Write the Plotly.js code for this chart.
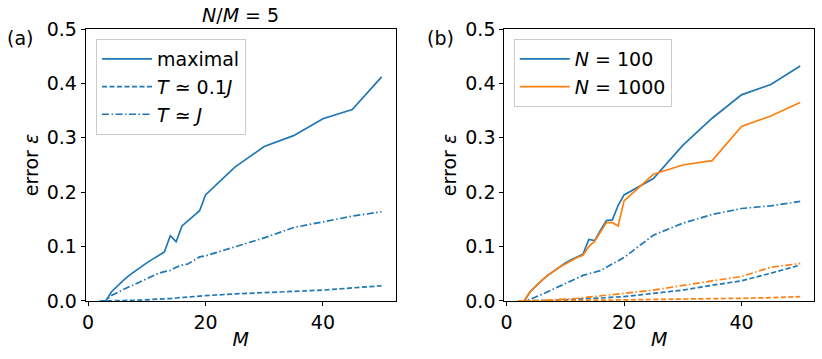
<!DOCTYPE html>
<html>
<head>
<meta charset="utf-8">
<script src="https://cdn.plot.ly/plotly-3.0.1.min.js"></script>
<style>
  html, body { margin: 0; padding: 0; background: #fff; }
  #graph { width: 822px; height: 359px; }
</style>
</head>
<body>
<div id="graph"></div>
<script>
// M values shared by every curve
const mValues = [2, 3, 4, 5, 6, 7, 8, 9, 10, 11, 12, 13, 14, 15, 16, 17, 18, 19, 20, 25, 30, 35, 40, 45, 50];

// panel (a), N/M = 5
const maximalA = [0, 0, 0.017, 0.028, 0.038, 0.047, 0.055, 0.063, 0.070, 0.077, 0.083, 0.090, 0.120, 0.109, 0.138, 0.147, 0.156, 0.166, 0.195, 0.246, 0.284, 0.304, 0.335, 0.352, 0.412];
const lowTempA = [0, 0, 0, 0.0003, 0.0006, 0.001, 0.0013, 0.0017, 0.002, 0.0025, 0.003, 0.0037, 0.0045, 0.0055, 0.0065, 0.0075, 0.0085, 0.009, 0.0098, 0.013, 0.015, 0.018, 0.020, 0.024, 0.028];
const highTempA = [0, 0, 0.010, 0.016, 0.021, 0.026, 0.031, 0.036, 0.041, 0.046, 0.051, 0.054, 0.056, 0.062, 0.066, 0.068, 0.075, 0.081, 0.083, 0.099, 0.116, 0.135, 0.146, 0.156, 0.164];

// panel (b), N = 100 and N = 1000
const maximalN100 = [0, 0, 0.017, 0.028, 0.038, 0.047, 0.055, 0.063, 0.070, 0.076, 0.081, 0.086, 0.113, 0.111, 0.130, 0.148, 0.149, 0.176, 0.195, 0.225, 0.286, 0.336, 0.379, 0.398, 0.432];
const maximalN1000 = [0, 0, 0.017, 0.028, 0.038, 0.047, 0.055, 0.062, 0.068, 0.074, 0.080, 0.084, 0.100, 0.110, 0.127, 0.144, 0.144, 0.138, 0.184, 0.233, 0.250, 0.258, 0.321, 0.340, 0.365];
const highTempN100 = [0, 0, 0.003, 0.007, 0.012, 0.017, 0.022, 0.027, 0.032, 0.037, 0.042, 0.047, 0.050, 0.053, 0.056, 0.062, 0.068, 0.074, 0.080, 0.121, 0.143, 0.159, 0.170, 0.175, 0.183];
const highTempN1000 = [0, 0, 0, 0.0005, 0.001, 0.0015, 0.002, 0.003, 0.004, 0.0045, 0.005, 0.006, 0.007, 0.008, 0.009, 0.010, 0.011, 0.012, 0.014, 0.020, 0.029, 0.037, 0.045, 0.062, 0.069];
const lowTempN100 = [0, 0, 0, 0, 0.0005, 0.001, 0.0013, 0.0016, 0.002, 0.0025, 0.003, 0.0035, 0.004, 0.005, 0.0055, 0.006, 0.007, 0.0075, 0.008, 0.014, 0.020, 0.029, 0.037, 0.051, 0.066];
const lowTempN1000 = [0, 0, 0, 0, 0, 0.0002, 0.0004, 0.0006, 0.0008, 0.001, 0.0011, 0.0012, 0.0013, 0.0014, 0.0015, 0.0016, 0.0017, 0.0018, 0.002, 0.0025, 0.003, 0.0035, 0.005, 0.006, 0.008];

const blue = '#1f77b4';
const orange = '#ff7f0e';
const font = 'DejaVu Sans, sans-serif';
const fsize = 19;
const dashed = '5px,2.5px';
const dashDot = '7px,2.5px,1.5px,2.5px';

function makeLine(y, color, dash, name, axis, legendName, show) {
    return {
        x: mValues,
        y: y,
        mode: 'lines',
        name: name,
        line: {color: color, width: 1.7, dash: dash},
        xaxis: 'x' + axis,
        yaxis: 'y' + axis,
        legend: legendName,
        showlegend: show,
        hoverinfo: 'skip',
    };
}

const traces = [
    makeLine(maximalA, blue, 'solid', 'maximal', '', 'legend', true),
    makeLine(lowTempA, blue, dashed, '<i>T</i> ≃ 0.1<i>J</i>', '', 'legend', true),
    makeLine(highTempA, blue, dashDot, '<i>T</i> ≃ <i>J</i>', '', 'legend', true),

    makeLine(maximalN100, blue, 'solid', '<i>N</i> = 100', '2', 'legend2', true),
    makeLine(maximalN1000, orange, 'solid', '<i>N</i> = 1000', '2', 'legend2', true),
    makeLine(highTempN100, blue, dashDot, 'hb', '2', 'legend2', false),
    makeLine(lowTempN100, blue, dashed, 'lb', '2', 'legend2', false),
    makeLine(highTempN1000, orange, dashDot, 'ho', '2', 'legend2', false),
    makeLine(lowTempN1000, orange, dashed, 'lo', '2', 'legend2', false),
];

function xAxis(domain, anchor) {
    return {
        domain: domain,
        anchor: anchor,
        range: [-0.4, 52.4],
        tickvals: [0, 20, 40],
        ticks: 'outside',
        ticklen: 4,
        tickcolor: '#000',
        showline: true,
        mirror: true,
        linecolor: '#000',
        linewidth: 1,
        showgrid: false,
        zeroline: false,
        tickfont: {size: fsize, color: '#000'},
        title: {text: '<i>M</i>', font: {size: fsize, color: '#000'}, standoff: 0},
        automargin: false,
    };
}

function yAxis(anchor) {
    return {
        domain: [0.1616, 0.9192],
        anchor: anchor,
        range: [0, 0.5],
        tickvals: [0, 0.1, 0.2, 0.3, 0.4, 0.5],
        tickformat: '.1f',
        ticks: 'outside',
        ticklen: 4,
        tickcolor: '#000',
        showline: true,
        mirror: true,
        linecolor: '#000',
        linewidth: 1,
        showgrid: false,
        zeroline: false,
        tickfont: {size: fsize, color: '#000'},
        title: {text: 'error <i>ε</i>', font: {size: fsize, color: '#000'}, standoff: 3},
        automargin: false,
    };
}

function legendBox(x) {
    return {
        x: x,
        y: 0.8914,
        xanchor: 'left',
        yanchor: 'top',
        bgcolor: 'rgba(255,255,255,0.8)',
        bordercolor: '#cccccc',
        borderwidth: 1,
        itemwidth: 50,
        tracegroupgap: 0,
        font: {family: font, size: fsize, color: '#000'},
    };
}

const layout = {
    width: 822,
    height: 359,
    margin: {l: 0, r: 0, t: 0, b: 0},
    paper_bgcolor: '#fff',
    plot_bgcolor: '#fff',
    font: {family: font, size: fsize, color: '#000'},
    xaxis: xAxis([0.1043, 0.4814], 'y'),
    yaxis: yAxis('x'),
    xaxis2: xAxis([0.6135, 0.9906], 'y2'),
    yaxis2: yAxis('x2'),
    legend: legendBox(0.1168),
    legend2: legendBox(0.625),
    annotations: [
        {
            text: '<i>N</i>/<i>M</i> = 5',
            x: 0.2928, y: 1 - 15 / 359,
            xref: 'paper', yref: 'paper',
            xanchor: 'center', yanchor: 'middle',
            showarrow: false,
            font: {size: fsize},
        },
        {
            text: '(a)',
            x: 20 / 822, y: 1 - 38 / 359,
            xref: 'paper', yref: 'paper',
            xanchor: 'center', yanchor: 'middle',
            showarrow: false,
            font: {size: fsize},
        },
        {
            text: '(b)',
            x: 440 / 822, y: 1 - 38 / 359,
            xref: 'paper', yref: 'paper',
            xanchor: 'center', yanchor: 'middle',
            showarrow: false,
            font: {size: fsize},
        },
    ],
};

Plotly.newPlot('graph', traces, layout, {displayModeBar: false, staticPlot: true});
</script>
</body>
</html>
